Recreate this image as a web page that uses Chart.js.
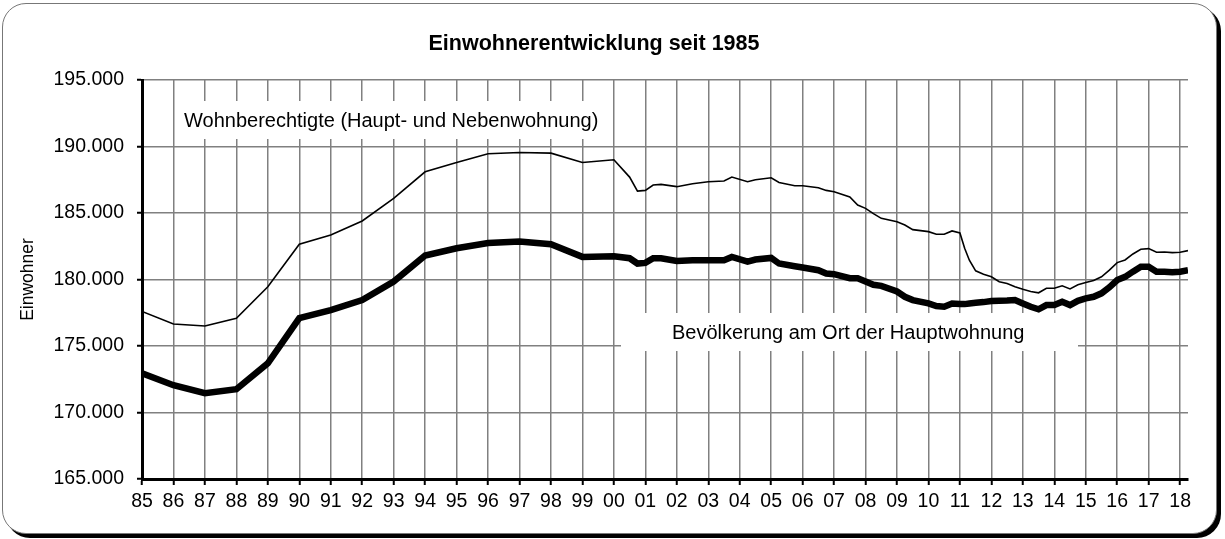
<!doctype html>
<html lang="de">
  <head>
    <meta charset="utf-8">
    <title>Einwohnerentwicklung seit 1985</title>
    <style>
      * {
        margin: 0;
        padding: 0;
      }
      body {
        background: white;
        width: 1225px;
        height: 539px;
        position: relative;
        overflow: hidden;
      }
      .frame {
        position: absolute;
        left: 2px;
        top: 3px;
        width: 1213px;
        height: 529px;
        border: 1px solid #777;
        border-radius: 24px;
        background: white;
        box-shadow: 4px 4px 0 #000;
      }
      #myChart {
        position: absolute;
        left: 0;
        top: 0;
      }
    </style>
  </head>
  <body>
    <div class="frame"></div>
    <canvas id="myChart" width="1225" height="539"></canvas>
    <script src="https://cdn.jsdelivr.net/npm/chart.js/dist/chart.umd.min.js"></script>
    <script>
    // data block
    const jahre = [
      1985, 1986, 1987, 1988, 1989, 1990, 1991, 1992, 1993, 1994, 1995, 1996, 1997, 1998, 1999, 2000,
      2000.5, 2000.75, 2001, 2001.25, 2001.5, 2002, 2002.5, 2003, 2003.5, 2003.75, 2004.25, 2004.5,
      2005, 2005.25, 2005.75, 2006, 2006.5, 2006.75, 2007, 2007.5, 2007.75, 2008, 2008.25, 2008.5,
      2009, 2009.25, 2009.5, 2010, 2010.25, 2010.5, 2010.75, 2011, 2011.15, 2011.3, 2011.5, 2011.75,
      2012, 2012.25, 2012.5, 2012.75, 2013, 2013.25, 2013.5, 2013.75, 2014, 2014.25, 2014.5, 2014.75,
      2015, 2015.25, 2015.5, 2015.75, 2016, 2016.25, 2016.5, 2016.75, 2017, 2017.25, 2017.5, 2017.75,
      2018, 2018.25
    ];
    const wohnberechtigte = [
      177600, 176650, 176500, 177080, 179450, 182650, 183350, 184400, 186100, 188100, 188800, 189450, 189550, 189500, 188800, 189000,
      187700, 186650, 186700, 187100, 187150, 186980, 187200, 187350, 187400, 187700, 187350, 187500,
      187650, 187300, 187050, 187050, 186900, 186700, 186600, 186200, 185600, 185350, 184950, 184600,
      184350, 184100, 183750, 183600, 183400, 183400, 183650, 183500, 182350, 181450, 180650, 180400,
      180200, 179830, 179700, 179460, 179260, 179100, 179000, 179340, 179340, 179530, 179290, 179600,
      179770, 179930, 180200, 180700, 181270, 181470, 181920, 182270, 182320, 182050, 182070, 182020,
      182050, 182170
    ];
    const hauptwohnung = [
      172950, 172050, 171450, 171750, 173700, 177100, 177700, 178450, 179850, 181800, 182350, 182750, 182850, 182650, 181700, 181750,
      181600, 181200, 181250, 181600, 181600, 181400, 181450, 181450, 181450, 181700, 181350, 181500,
      181620, 181200, 181000, 180900, 180700, 180450, 180400, 180100, 180100, 179850, 179600, 179520,
      179100, 178700, 178450, 178200, 178000, 177950, 178200, 178150, 178150, 178200, 178250, 178300,
      178380, 178400, 178420, 178460, 178200, 177950, 177760, 178080, 178080, 178330, 178080, 178400,
      178580, 178700, 178960, 179410, 179960, 180200, 180590, 180960, 180960, 180590, 180590, 180550,
      180590, 180700
    ];
    const yMin = 165000;
    const yMax = 195000;
    const yStep = 5000;

    const FONT = '"Liberation Sans", Arial, sans-serif';

    function tausender(v) {
      const t = Math.floor(v / 1000);
      const r = String(v % 1000).padStart(3, '0');
      return t + '.' + r;
    }

    // labels in white boxes + title
    const annotations = {
      id: 'annotations',
      beforeDatasetsDraw(chart) {
        const ctx = chart.ctx;
        ctx.save();
        ctx.fillStyle = '#fff';
        ctx.fillRect(175, 101, 433, 38);
        ctx.fillRect(621, 313, 457, 38);
        ctx.fillStyle = '#000';
        ctx.font = '20px ' + FONT;
        ctx.textBaseline = 'middle';
        ctx.textAlign = 'left';
        ctx.fillText('Wohnberechtigte (Haupt- und Nebenwohnung)', 184, 121);
        ctx.fillText('Bevölkerung am Ort der Hauptwohnung', 672, 333);
        ctx.restore();
      },
      afterDraw(chart) {
        const ctx = chart.ctx;
        ctx.save();
        ctx.fillStyle = '#000';
        ctx.font = 'bold 21.5px ' + FONT;
        ctx.textAlign = 'center';
        ctx.textBaseline = 'middle';
        ctx.fillText('Einwohnerentwicklung seit 1985', 594, 44);
        ctx.restore();
      }
    };

    // setup
    const data = {
      datasets: [{
        label: 'Wohnberechtigte (Haupt- und Nebenwohnung)',
        data: jahre.map((j, i) => ({x: j, y: wohnberechtigte[i]})),
        borderColor: '#000',
        borderWidth: 1.6,
        pointRadius: 0,
        tension: 0
      }, {
        label: 'Bevölkerung am Ort der Hauptwohnung',
        data: jahre.map((j, i) => ({x: j, y: hauptwohnung[i]})),
        borderColor: '#000',
        borderWidth: 6.5,
        pointRadius: 0,
        tension: 0
      }]
    };

    // config
    const config = {
      type: 'line',
      data,
      plugins: [annotations],
      options: {
        responsive: false,
        animation: false,
        devicePixelRatio: 1,
        layout: {
          padding: {top: 80, right: 37, bottom: 0, left: 0}
        },
        plugins: {
          legend: {display: false},
          tooltip: {enabled: false}
        },
        scales: {
          x: {
            type: 'linear',
            min: 1985,
            max: 2018.25,
            afterFit(scale) { scale.height = 60; },
            ticks: {
              stepSize: 1,
              includeBounds: false,
              autoSkip: false,
              maxRotation: 0,
              padding: 5,
              color: '#000',
              font: {family: FONT, size: 19.5},
              callback: v => String(v % 100).padStart(2, '0')
            },
            grid: {
              color: '#808080',
              lineWidth: 1.5,
              tickColor: '#000',
              tickWidth: 2,
              tickLength: 6
            },
            border: {color: '#000', width: 3}
          },
          y: {
            min: yMin,
            max: yMax,
            afterFit(scale) { scale.width = 142; },
            ticks: {
              stepSize: yStep,
              padding: 13,
              color: '#000',
              font: {family: FONT, size: 19.5},
              callback: v => tausender(v)
            },
            grid: {
              color: '#808080',
              lineWidth: 1.5,
              tickColor: '#000',
              tickWidth: 2,
              tickLength: 5
            },
            border: {color: '#000', width: 3},
            title: {
              display: true,
              text: 'Einwohner',
              color: '#000',
              font: {family: FONT, size: 17.5},
              padding: {top: 18, bottom: 0}
            }
          }
        }
      }
    };

    // render init block
    const myChart = new Chart(
      document.getElementById('myChart'),
      config
    );
    </script>
  </body>
</html>
